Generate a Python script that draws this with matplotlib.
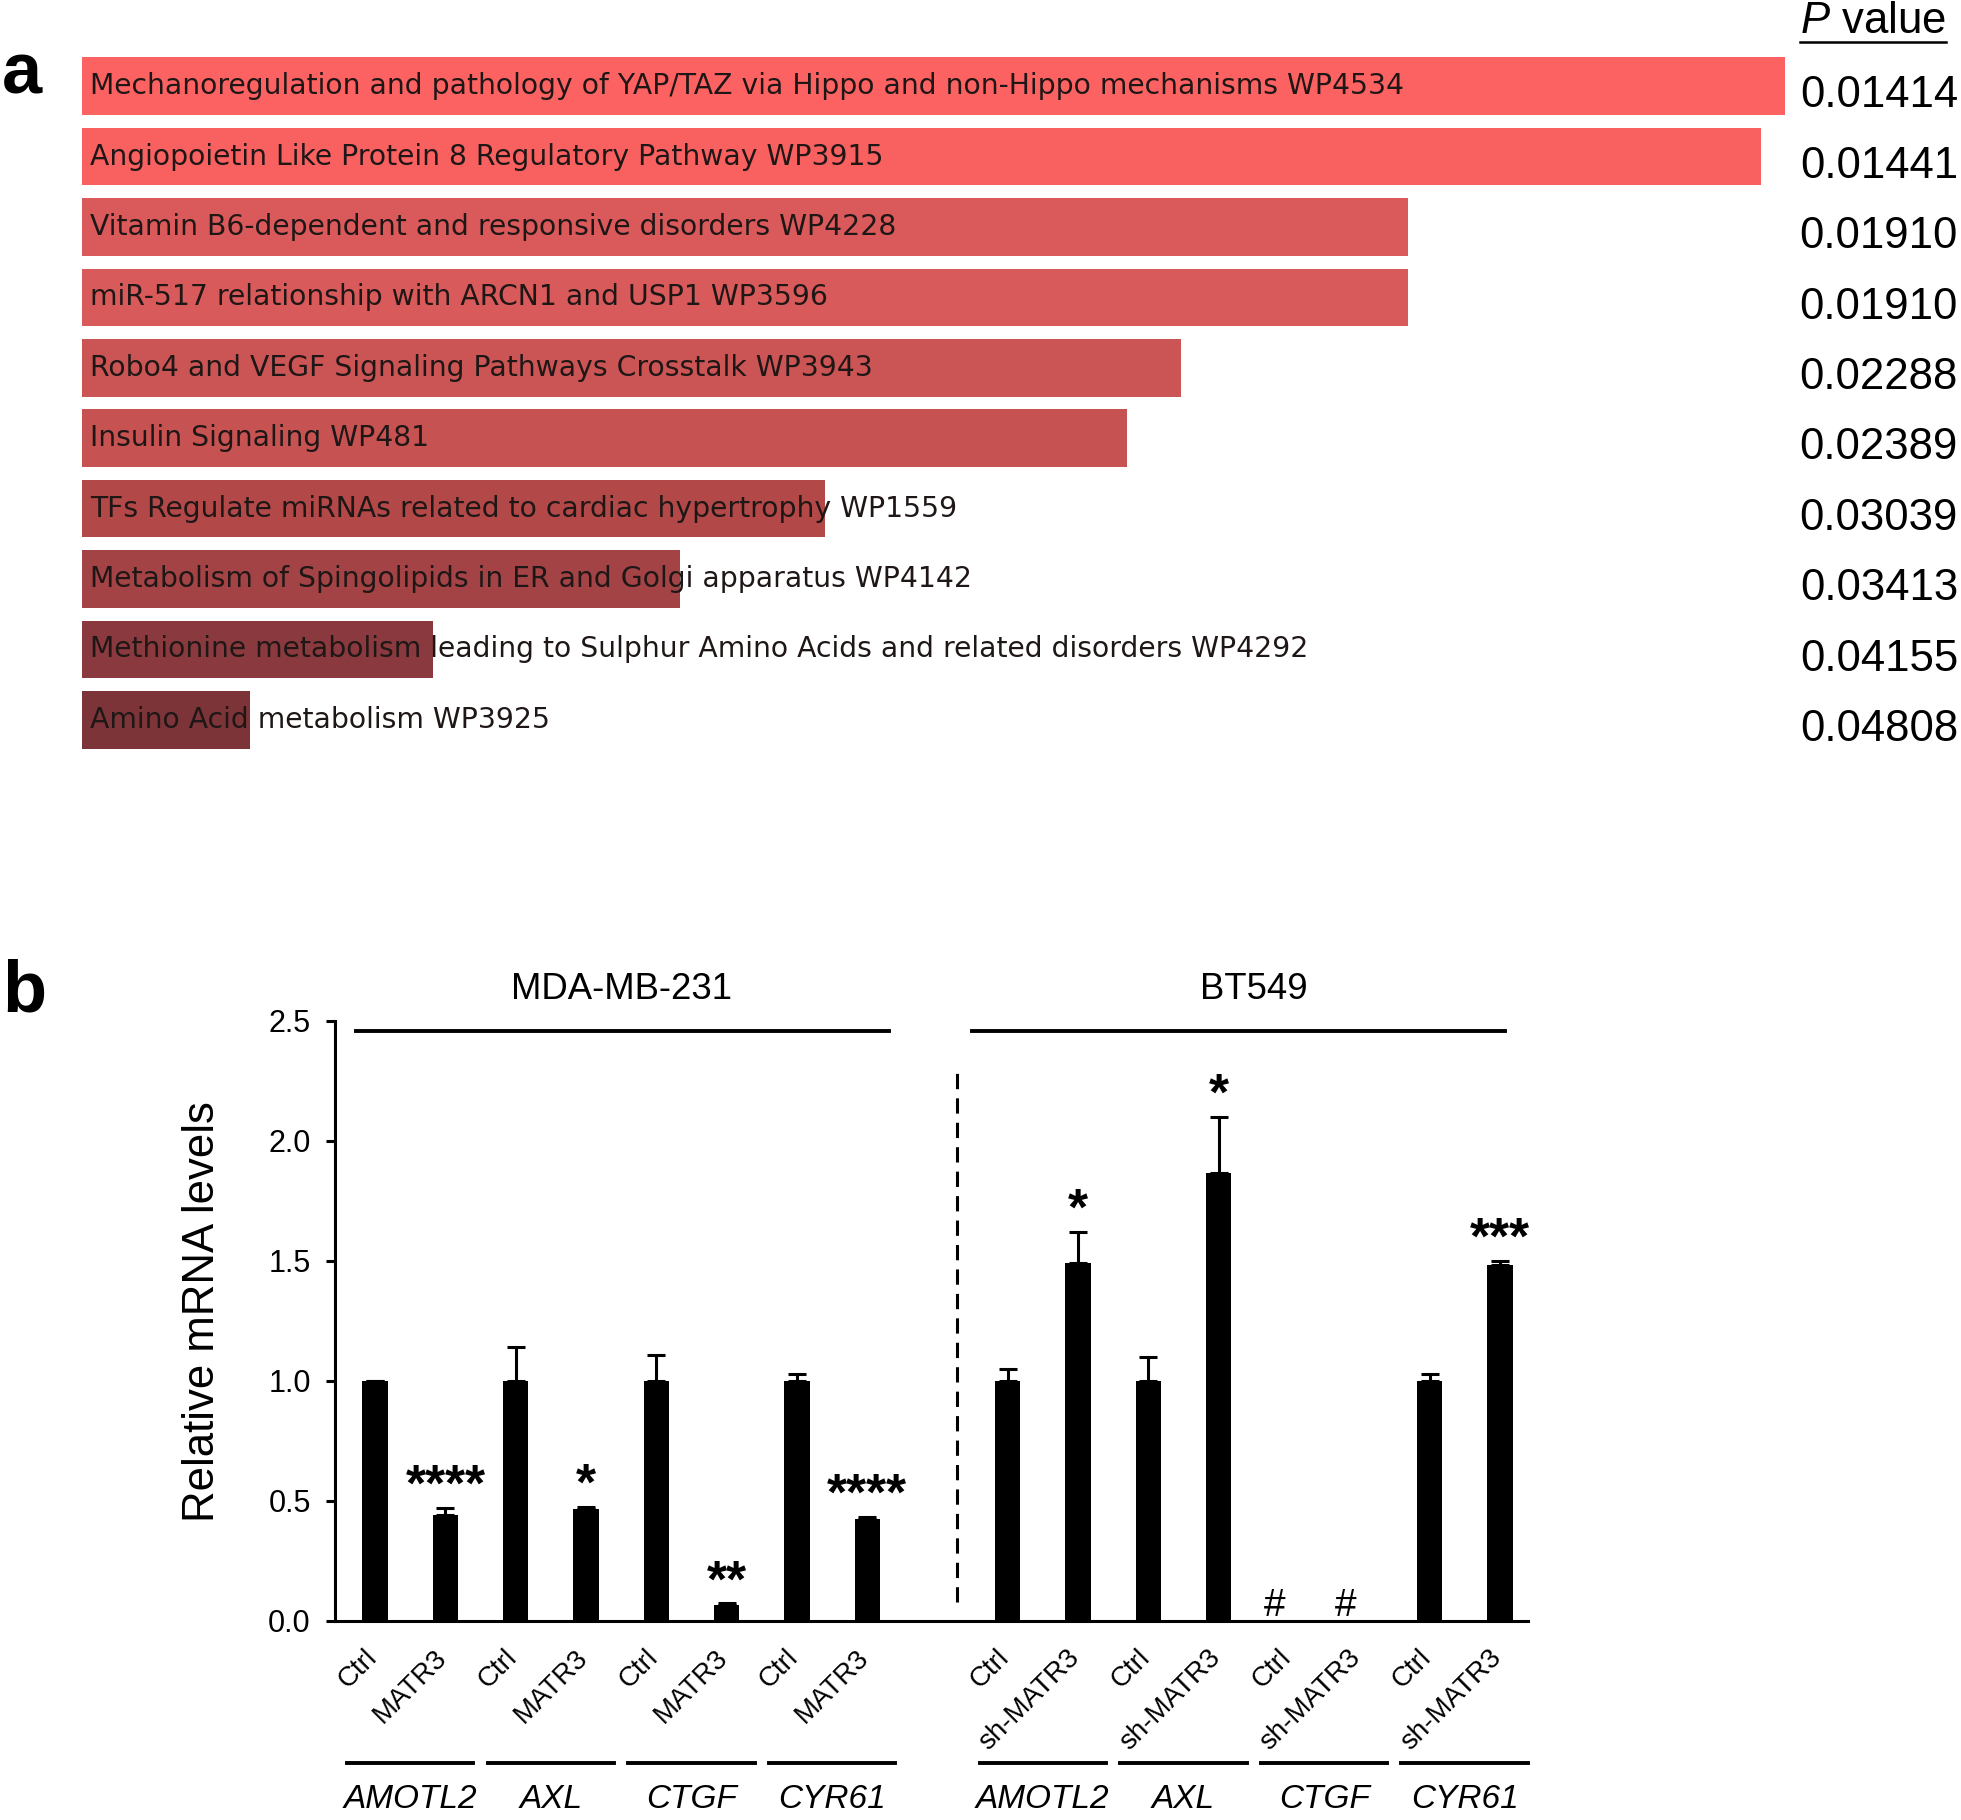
import numpy as np
import matplotlib
matplotlib.use('Agg')
import matplotlib.pyplot as plt
from matplotlib import transforms
from matplotlib.lines import Line2D

plt.rcParams['font.family'] = ['Liberation Sans', 'DejaVu Sans']
plt.rcParams['mathtext.fontset'] = 'custom'
plt.rcParams['mathtext.rm'] = 'Liberation Sans'
plt.rcParams['mathtext.it'] = 'Liberation Sans:italic'

# ---- panel a: enriched WikiPathways ----
pathways = [
    'Mechanoregulation and pathology of YAP/TAZ via Hippo and non-Hippo mechanisms WP4534',
    'Angiopoietin Like Protein 8 Regulatory Pathway WP3915',
    'Vitamin B6-dependent and responsive disorders WP4228',
    'miR-517 relationship with ARCN1 and USP1 WP3596',
    'Robo4 and VEGF Signaling Pathways Crosstalk WP3943',
    'Insulin Signaling WP481',
    'TFs Regulate miRNAs related to cardiac hypertrophy WP1559',
    'Metabolism of Spingolipids in ER and Golgi apparatus WP4142',
    'Methionine metabolism leading to Sulphur Amino Acids and related disorders WP4292',
    'Amino Acid metabolism WP3925',
]
p_values = [0.01414, 0.01441, 0.01910, 0.01910, 0.02288,
            0.02389, 0.03039, 0.03413, 0.04155, 0.04808]
bar_colors = ['#fd6262', '#f96161', '#da5a5c', '#d95a5a', '#cb5454',
              '#c75252', '#b24848', '#a34346', '#8a3a3e', '#7c3438']

# ---- panel b: qPCR ----
genes = ['AMOTL2', 'AXL', 'CTGF', 'CYR61']
mda_ctrl = [1.0, 1.0, 1.0, 1.0]
mda_ctrl_err = [0.0, 0.14, 0.11, 0.03]
mda_kd = [0.44, 0.465, 0.065, 0.425]
mda_kd_err = [0.03, 0.012, 0.008, 0.007]
mda_sig_ctrl = ['', '', '', '']
mda_sig_kd = ['****', '*', '**', '****']

bt_ctrl = [1.0, 1.0, np.nan, 1.0]
bt_ctrl_err = [0.05, 0.10, np.nan, 0.03]
bt_sh = [1.49, 1.865, np.nan, 1.485]
bt_sh_err = [0.13, 0.235, np.nan, 0.015]
bt_sig_ctrl = ['', '', '#', '']
bt_sig_sh = ['*', '*', '#', '***']

groups = ['MDA-MB-231', 'BT549']
tick_labels_mda = ['Ctrl', 'MATR3']
tick_labels_bt = ['Ctrl', 'sh-MATR3']

W, H = 1961, 1820
fig = plt.figure(figsize=(W / 100, H / 100), dpi=100)


def fx(px):
    return px / W


def fy(px):
    return 1 - px / H


# ================= panel a =================
ax_a = fig.add_axes([fx(82), fy(755), fx(1785 - 82), (755 - 51) / H])
score = -np.log10(np.array(p_values))
ypos = np.arange(len(pathways))
ax_a.barh(ypos, score, height=0.82, color=bar_colors)
ax_a.set_xlim(1.26, score.max())
ax_a.set_ylim(len(pathways) - 0.5, -0.5)
ax_a.axis('off')

lab_tr = transforms.blended_transform_factory(ax_a.transAxes, ax_a.transData)
for i, name in enumerate(pathways):
    ax_a.text(0.0047, i, name, transform=lab_tr, ha='left', va='center',
              fontsize=20.3, family='DejaVu Sans', color='#1f1616')

p_tr = transforms.blended_transform_factory(fig.transFigure, ax_a.transData)
for i, p in enumerate(p_values):
    ax_a.text(fx(1958), i + 0.3, '%.5f' % p, transform=p_tr, ha='right',
              va='baseline', fontsize=31.5, clip_on=False)

fig.text(fx(1946), fy(33), r'$\mathit{P}$ value', ha='right', va='baseline',
         fontsize=31.5)
fig.add_artist(Line2D([fx(1800), fx(1946)], [fy(41.5), fy(41.5)],
                      transform=fig.transFigure, color='black', lw=1.8))

fig.text(fx(2), fy(94), 'a', fontsize=52, fontweight='bold', va='baseline')
fig.text(fx(2), fy(1012), 'b', fontsize=52, fontweight='bold', va='baseline')

# ================= panel b =================
ax_b = fig.add_axes([fx(335), fy(1621), fx(1528 - 335), 600 / H])

pos_mda = np.arange(8)
pos_bt = np.arange(8) + 9
bw = 0.36


def interleave(a, b):
    out = []
    for x, y in zip(a, b):
        out += [x, y]
    return out


vals = interleave(mda_ctrl, mda_kd) + interleave(bt_ctrl, bt_sh)
errs = interleave(mda_ctrl_err, mda_kd_err) + interleave(bt_ctrl_err, bt_sh_err)
sigs = interleave(mda_sig_ctrl, mda_sig_kd) + interleave(bt_sig_ctrl, bt_sig_sh)
pos = np.concatenate([pos_mda, pos_bt])
vals = np.array(vals, dtype=float)
errs = np.array(errs, dtype=float)

ok = ~np.isnan(vals)
ax_b.bar(pos[ok], vals[ok], width=bw, color='black')
ax_b.errorbar(pos[ok], vals[ok], yerr=[np.zeros(ok.sum()), errs[ok]],
              fmt='none', ecolor='black', elinewidth=2.2, capsize=6.5,
              capthick=2.2)

for x, v, e, s in zip(pos, vals, errs, sigs):
    if not s:
        continue
    if s == '#':
        # not detected: mark sits a little left of the slot
        ax_b.text(x - 0.2, 0.02, s, ha='center', va='baseline', fontsize=28)
    else:
        ax_b.text(x, v + e + 0.03, s, ha='center', va='baseline',
                  fontsize=37, fontweight='bold')

ax_b.set_xlim(-0.57, 16.4)
ax_b.set_ylim(0, 2.5)
ax_b.set_yticks(np.arange(0, 2.51, 0.5))
ax_b.set_yticklabels(['%.1f' % t for t in np.arange(0, 2.51, 0.5)],
                     fontsize=22)
ax_b.tick_params(axis='y', length=6.5, width=2.2, pad=11)
ax_b.set_xticks(pos)
ax_b.set_xticklabels(tick_labels_mda * 4 + tick_labels_bt * 4, rotation=45,
                     ha='right', fontsize=20)
ax_b.tick_params(axis='x', length=0, pad=17)
shift = transforms.ScaledTranslation(5 / 72, 0, fig.dpi_scale_trans)
for lab in ax_b.get_xticklabels():
    lab.set_transform(lab.get_transform() + shift)
for side in ['top', 'right']:
    ax_b.spines[side].set_visible(False)
for side in ['left', 'bottom']:
    ax_b.spines[side].set_linewidth(2.2)

# separator between cell lines
ax_b.plot([8.28, 8.28], [0.08, 2.3], color='black', lw=2.2,
          linestyle=(0, (5, 3)))

# cell line headers
header_lines = [(-0.27, 7.31), (8.49, 16.07)]
for name, p, (x0, x1) in zip(groups, [pos_mda, pos_bt], header_lines):
    ax_b.plot([x0, x1], [2.46, 2.46], color='black', lw=2.8, clip_on=False)
    ax_b.text(p.mean(), 2.63, name, ha='center', va='center', fontsize=26.3)

# gene labels under the axis
gtr = transforms.blended_transform_factory(ax_b.transData, ax_b.transAxes)
for p in [pos_mda, pos_bt]:
    for k, g in enumerate(genes):
        c = (p[2 * k] + p[2 * k + 1]) / 2
        ax_b.plot([c - 0.9, c + 0.9], [-0.236, -0.236], color='black',
                  lw=2.8, transform=gtr, clip_on=False)
        ax_b.text(c, -0.297, g, transform=gtr, ha='center', va='center',
                  fontsize=24, style='italic')

ax_b.text(-0.111, 0.515, 'Relative mRNA levels', transform=ax_b.transAxes,
          rotation=90, ha='center', va='center', fontsize=31.5)

fig.savefig('out.png', dpi=100)
